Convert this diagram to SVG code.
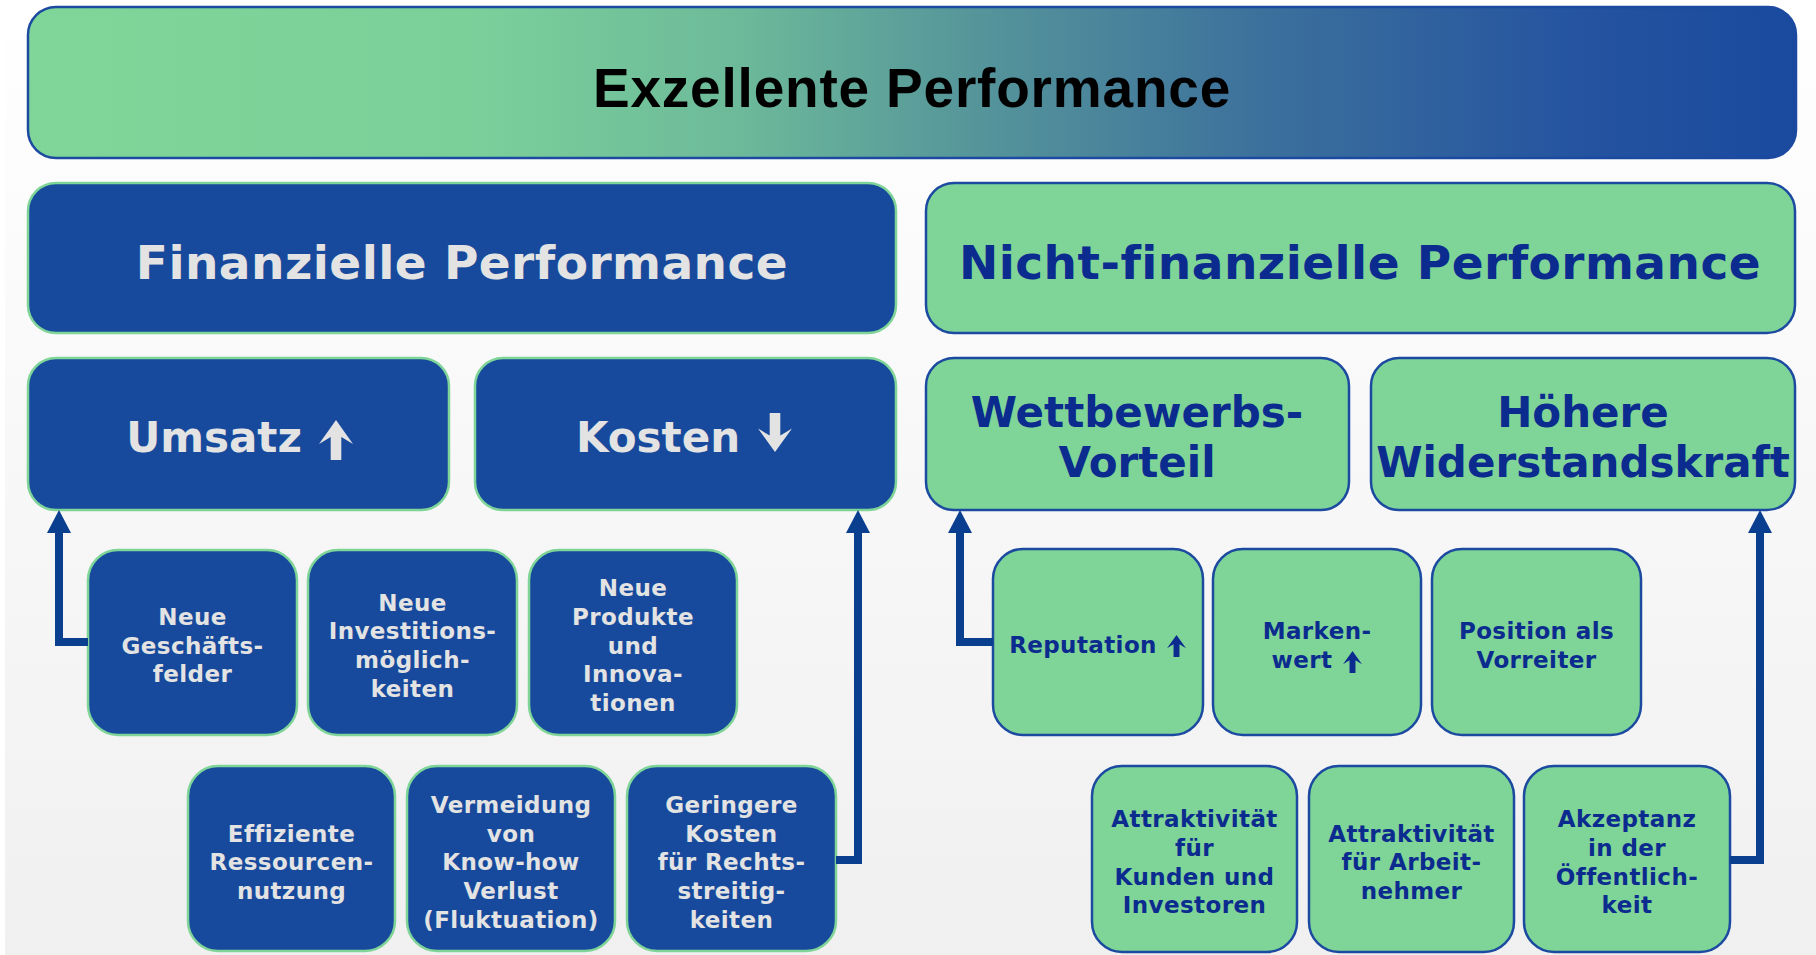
<svg xmlns="http://www.w3.org/2000/svg" xmlns:xlink="http://www.w3.org/1999/xlink" width="1816" height="955" viewBox="0 0 1816 955">
  <defs>
    <linearGradient id="bgGrad" x1="0" y1="0" x2="0" y2="1">
      <stop offset="0" stop-color="#FFFFFF"/>
      <stop offset="1" stop-color="#F0F0F0"/>
    </linearGradient>
    <linearGradient id="bannerGrad" x1="0" y1="0" x2="1" y2="0">
      <stop offset="0" stop-color="#80D598"/>
      <stop offset="0.25" stop-color="#7BD09A"/>
      <stop offset="0.4" stop-color="#6DBA9A"/>
      <stop offset="0.52" stop-color="#58999A"/>
      <stop offset="0.7" stop-color="#3C709C"/>
      <stop offset="0.88" stop-color="#2553A0"/>
      <stop offset="1" stop-color="#1A4A9E"/>
    </linearGradient>
    <!-- block arrow used beside labels -->
    <symbol id="blockArrow" viewBox="0 0 32 40" preserveAspectRatio="none">
      <polygon points="16,0 32,24 21,17 21,40 11,40 11,17 0,24"/>
    </symbol>
    <marker id="head" viewBox="0 0 23 24" refX="0" refY="12" markerWidth="23" markerHeight="24" markerUnits="userSpaceOnUse" orient="auto">
      <path d="M0,0 L23,12 L0,24 z" fill="#0A3F8F"/>
    </marker>
    <style>
      .bb { fill: #174A9C; stroke: #7FD498; stroke-width: 2.5; }
      .gb { fill: #7FD498; stroke: #1B4AA0; stroke-width: 2.5; }
      .banner { fill: url(#bannerGrad); stroke: #1B4AA0; stroke-width: 2.5; }
      text { font-family: "DejaVu Sans", Verdana, sans-serif; font-weight: bold; text-anchor: middle; }
      .tw { fill: #E3E3E3; }
      .tn { fill: #0B2B8E; }
      .title { font-family: "Liberation Sans", Arial, sans-serif; font-size: 55px; letter-spacing: 0.8px; fill: #000000; }
      .big { font-size: 47px; letter-spacing: 0.45px; }
      .mid { font-size: 42px; }
      .sm { font-size: 23px; letter-spacing: 0.4px; }
      .conn { fill: none; stroke: #0A3F8F; stroke-width: 8; marker-end: url(#head); }
    </style>
  </defs>

  <!-- backdrop -->
  <rect x="0" y="0" width="1816" height="955" fill="#FFFFFF"/>
  <rect x="5" y="0" width="1811" height="955" fill="url(#bgGrad)"/>

  <!-- top banner -->
  <g id="exzellente-performance">
    <rect class="banner" x="28" y="7" width="1768" height="151" rx="28"/>
    <text class="title" x="912" y="107">Exzellente Performance</text>
  </g>

  <!-- pillar headers -->
  <g id="finanzielle-performance">
    <rect class="bb" x="28" y="183" width="868" height="150" rx="28"/>
    <text class="tw big" x="462" y="279">Finanzielle Performance</text>
  </g>
  <g id="nicht-finanzielle-performance">
    <rect class="gb" x="926" y="183" width="869" height="150" rx="28"/>
    <text class="tn big" x="1360" y="279">Nicht-finanzielle Performance</text>
  </g>

  <!-- second level -->
  <g id="umsatz">
    <rect class="bb" x="28" y="358" width="421" height="152" rx="28"/>
    <text class="tw mid" x="214" y="452">Umsatz</text>
    <use xlink:href="#blockArrow" href="#blockArrow" x="319" y="420" width="34" height="40" fill="#E3E3E3"/>
  </g>
  <g id="kosten">
    <rect class="bb" x="475" y="358" width="421" height="152" rx="28"/>
    <text class="tw mid" x="658" y="452">Kosten</text>
    <use xlink:href="#blockArrow" href="#blockArrow" x="758" y="413" width="34" height="39" fill="#E3E3E3" transform="rotate(180 775 432.5)"/>
  </g>
  <g id="wettbewerbsvorteil">
    <rect class="gb" x="926" y="358" width="423" height="152" rx="28"/>
    <text class="tn mid" x="1137" y="427">Wettbewerbs-</text>
    <text class="tn mid" x="1137" y="477">Vorteil</text>
  </g>
  <g id="widerstandskraft">
    <rect class="gb" x="1371" y="358" width="424" height="152" rx="28"/>
    <text class="tn mid" x="1583" y="427">Höhere</text>
    <text class="tn mid" x="1583" y="477">Widerstandskraft</text>
  </g>

  <!-- financial drivers, first row -->
  <g id="neue-geschaeftsfelder">
    <rect class="bb" x="88" y="550" width="209" height="185" rx="30"/>
    <text class="tw sm" x="192.5" y="625">Neue</text>
    <text class="tw sm" x="192.5" y="653.5">Geschäfts-</text>
    <text class="tw sm" x="192.5" y="682">felder</text>
  </g>
  <g id="neue-investitionsmoeglichkeiten">
    <rect class="bb" x="308" y="550" width="209" height="185" rx="30"/>
    <text class="tw sm" x="412.5" y="610.5">Neue</text>
    <text class="tw sm" x="412.5" y="639">Investitions-</text>
    <text class="tw sm" x="412.5" y="668">möglich-</text>
    <text class="tw sm" x="412.5" y="696.5">keiten</text>
  </g>
  <g id="neue-produkte">
    <rect class="bb" x="529" y="550" width="208" height="185" rx="30"/>
    <text class="tw sm" x="633" y="596">Neue</text>
    <text class="tw sm" x="633" y="625">Produkte</text>
    <text class="tw sm" x="633" y="653.5">und</text>
    <text class="tw sm" x="633" y="682">Innova-</text>
    <text class="tw sm" x="633" y="711">tionen</text>
  </g>

  <!-- financial drivers, second row -->
  <g id="effiziente-ressourcennutzung">
    <rect class="bb" x="188" y="766" width="207" height="185" rx="30"/>
    <text class="tw sm" x="291.5" y="841.5">Effiziente</text>
    <text class="tw sm" x="291.5" y="870">Ressourcen-</text>
    <text class="tw sm" x="291.5" y="899">nutzung</text>
  </g>
  <g id="vermeidung-know-how-verlust">
    <rect class="bb" x="407" y="766" width="208" height="185" rx="30"/>
    <text class="tw sm" x="511" y="812.5">Vermeidung</text>
    <text class="tw sm" x="511" y="841.5">von</text>
    <text class="tw sm" x="511" y="870">Know-how</text>
    <text class="tw sm" x="511" y="899">Verlust</text>
    <text class="tw sm" x="511" y="927.5">(Fluktuation)</text>
  </g>
  <g id="geringere-kosten">
    <rect class="bb" x="627" y="766" width="209" height="185" rx="30"/>
    <text class="tw sm" x="731.5" y="812.5">Geringere</text>
    <text class="tw sm" x="731.5" y="841.5">Kosten</text>
    <text class="tw sm" x="731.5" y="870">für Rechts-</text>
    <text class="tw sm" x="731.5" y="899">streitig-</text>
    <text class="tw sm" x="731.5" y="927.5">keiten</text>
  </g>

  <!-- non-financial drivers, first row -->
  <g id="reputation">
    <rect class="gb" x="993" y="549" width="210" height="186" rx="30"/>
    <text class="tn sm" x="1083" y="653">Reputation</text>
    <use xlink:href="#blockArrow" href="#blockArrow" x="1167" y="635" width="19" height="22" fill="#0B2B8E"/>
  </g>
  <g id="markenwert">
    <rect class="gb" x="1213" y="549" width="208" height="186" rx="30"/>
    <text class="tn sm" x="1317" y="639">Marken-</text>
    <text class="tn sm" x="1302" y="667.5">wert</text>
    <use xlink:href="#blockArrow" href="#blockArrow" x="1343" y="651" width="19" height="22" fill="#0B2B8E"/>
  </g>
  <g id="position-als-vorreiter">
    <rect class="gb" x="1432" y="549" width="209" height="186" rx="30"/>
    <text class="tn sm" x="1536.5" y="639">Position als</text>
    <text class="tn sm" x="1536.5" y="667.5">Vorreiter</text>
  </g>

  <!-- non-financial drivers, second row -->
  <g id="attraktivitaet-kunden-investoren">
    <rect class="gb" x="1092" y="766" width="205" height="186" rx="30"/>
    <text class="tn sm" x="1194.5" y="827">Attraktivität</text>
    <text class="tn sm" x="1194.5" y="855.5">für</text>
    <text class="tn sm" x="1194.5" y="884.5">Kunden und</text>
    <text class="tn sm" x="1194.5" y="913">Investoren</text>
  </g>
  <g id="attraktivitaet-arbeitnehmer">
    <rect class="gb" x="1309" y="766" width="205" height="186" rx="30"/>
    <text class="tn sm" x="1411.5" y="841.5">Attraktivität</text>
    <text class="tn sm" x="1411.5" y="870">für Arbeit-</text>
    <text class="tn sm" x="1411.5" y="899">nehmer</text>
  </g>
  <g id="akzeptanz-oeffentlichkeit">
    <rect class="gb" x="1524" y="766" width="206" height="186" rx="30"/>
    <text class="tn sm" x="1627" y="827">Akzeptanz</text>
    <text class="tn sm" x="1627" y="855.5">in der</text>
    <text class="tn sm" x="1627" y="884.5">Öffentlich-</text>
    <text class="tn sm" x="1627" y="913">keit</text>
  </g>

  <!-- connectors -->
  <g id="connectors">
    <path class="conn" d="M88 642 H59 V533"/>
    <path class="conn" d="M836 860 H858 V533"/>
    <path class="conn" d="M993 642 H960 V533"/>
    <path class="conn" d="M1730 860 H1760 V533"/>
  </g>
</svg>
